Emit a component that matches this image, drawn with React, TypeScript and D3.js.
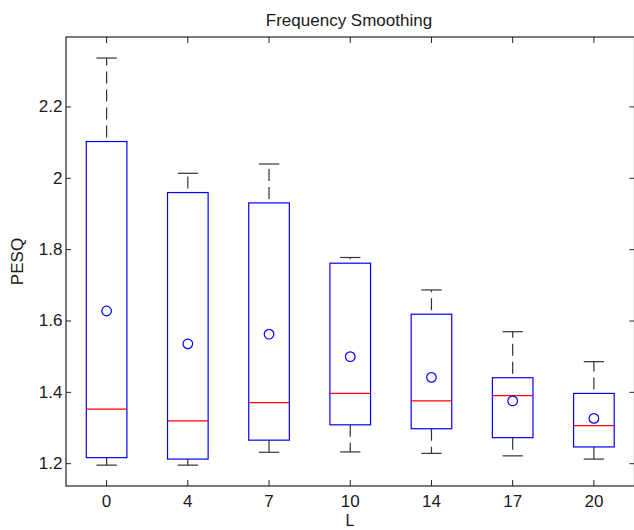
import React from "react";
import * as d3 from "d3";

const categories = ["0", "4", "7", "10", "14", "17", "20"];
const lowerWhisker = [1.196, 1.196, 1.232, 1.233, 1.229, 1.222, 1.213];
const q1 = [1.217, 1.213, 1.266, 1.309, 1.298, 1.273, 1.247];
const medians = [1.353, 1.32, 1.371, 1.397, 1.376, 1.391, 1.307];
const q3 = [2.103, 1.96, 1.931, 1.762, 1.619, 1.441, 1.397];
const upperWhisker = [2.337, 2.014, 2.04, 1.778, 1.687, 1.57, 1.486];
const means = [1.628, 1.536, 1.563, 1.5, 1.442, 1.376, 1.327];
const yTicks = [1.2, 1.4, 1.6, 1.8, 2.0, 2.2];

const W = 634;
const H = 530;
const left = 66;
const right = 634.5;
const top = 37;
const bottom = 486;

export default function App() {
  const x = d3
    .scaleLinear()
    .domain([0.5, categories.length + 0.5])
    .range([left, right]);
  const y = d3.scaleLinear().domain([1.1375, 2.396]).range([bottom, top]);
  const bw = x(1.25) - x(1);
  const cw = x(1.125) - x(1);
  const font = "'Liberation Sans', Arial, sans-serif";
  const txt = "#1a1a1a";

  return (
    <svg
      width={W}
      height={H}
      style={{ position: "absolute", left: 0, top: 0, background: "#fff" }}
      fontFamily={font}
    >
      <rect x={0} y={0} width={W} height={H} fill="#fff" />
      <rect
        x={left}
        y={top}
        width={right - left}
        height={bottom - top}
        fill="none"
        stroke="#222"
        strokeWidth={1.2}
      />
      {yTicks.map((t) => (
        <g key={"y" + t}>
          <line x1={left} x2={left + 5} y1={y(t)} y2={y(t)} stroke="#222" />
          <line x1={right - 5} x2={right} y1={y(t)} y2={y(t)} stroke="#222" />
          <text
            x={left - 3.5}
            y={y(t)}
            textAnchor="end"
            dominantBaseline="central"
            fontSize={17}
            fill={txt}
          >
            {d3.format("~g")(t)}
          </text>
        </g>
      ))}
      {categories.map((c, i) => (
        <g key={"x" + c}>
          <line x1={x(i + 1)} x2={x(i + 1)} y1={bottom} y2={bottom - 6} stroke="#222" />
          <line x1={x(i + 1)} x2={x(i + 1)} y1={top} y2={top + 6} stroke="#222" />
          <text x={x(i + 1)} y={507} textAnchor="middle" fontSize={17} fill={txt}>
            {c}
          </text>
        </g>
      ))}
      {categories.map((c, i) => {
        const cx = x(i + 1);
        return (
          <g key={"b" + c}>
            <line
              x1={cx}
              x2={cx}
              y1={y(q3[i])}
              y2={y(upperWhisker[i])}
              stroke="#333"
              strokeWidth={1.2}
              strokeDasharray="12 6"
              strokeDashoffset={14}
            />
            <line
              x1={cx}
              x2={cx}
              y1={y(q1[i])}
              y2={y(lowerWhisker[i])}
              stroke="#333"
              strokeWidth={1.2}
              strokeDasharray="12 6"
            />
            <line
              x1={cx - cw}
              x2={cx + cw}
              y1={y(upperWhisker[i])}
              y2={y(upperWhisker[i])}
              stroke="#333"
              strokeWidth={1.2}
            />
            <line
              x1={cx - cw}
              x2={cx + cw}
              y1={y(lowerWhisker[i])}
              y2={y(lowerWhisker[i])}
              stroke="#333"
              strokeWidth={1.2}
            />
            <rect
              x={cx - bw}
              y={y(q3[i])}
              width={2 * bw}
              height={y(q1[i]) - y(q3[i])}
              fill="none"
              stroke="#0000ff"
              strokeWidth={1.2}
            />
            <line
              x1={cx - bw}
              x2={cx + bw}
              y1={y(medians[i])}
              y2={y(medians[i])}
              stroke="#ff0000"
              strokeWidth={1.2}
            />
            <circle
              cx={cx}
              cy={y(means[i])}
              r={4.8}
              fill="none"
              stroke="#0000ff"
              strokeWidth={1.2}
            />
          </g>
        );
      })}
      <text x={349} y={26} textAnchor="middle" fontSize={17} fill={txt}>
        Frequency Smoothing
      </text>
      <text x={350} y={526} textAnchor="middle" fontSize={16} fill={txt}>
        L
      </text>
      <text
        transform={`translate(23, ${(top + bottom) / 2}) rotate(-90)`}
        textAnchor="middle"
        fontSize={17}
        fill={txt}
      >
        PESQ
      </text>
    </svg>
  );
}
